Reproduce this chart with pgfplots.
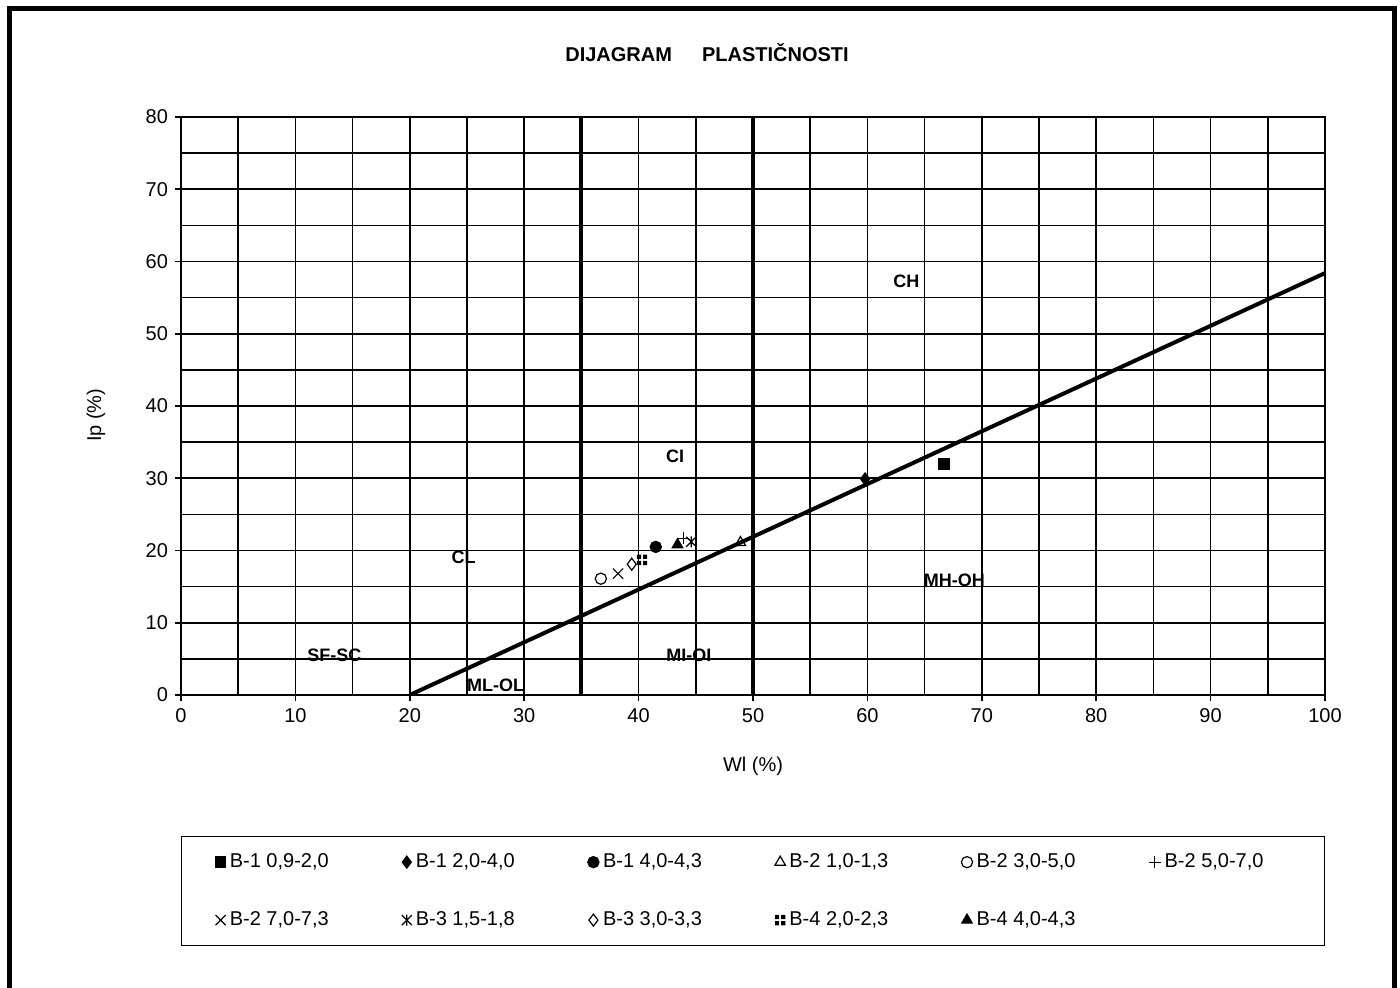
\documentclass[border=0pt]{standalone}
\usepackage{fontspec}
\setmainfont{Liberation Sans}
\usepackage{pgfplots}
\pgfplotsset{compat=1.18}

% Excel-like markers
\pgfdeclareplotmark{xbar}{%
  \pgfpathmoveto{\pgfqpoint{-\pgfplotmarksize}{-\pgfplotmarksize}}%
  \pgfpathlineto{\pgfqpoint{\pgfplotmarksize}{\pgfplotmarksize}}%
  \pgfpathmoveto{\pgfqpoint{-\pgfplotmarksize}{\pgfplotmarksize}}%
  \pgfpathlineto{\pgfqpoint{\pgfplotmarksize}{-\pgfplotmarksize}}%
  \pgfpathmoveto{\pgfqpoint{0pt}{-1.1\pgfplotmarksize}}%
  \pgfpathlineto{\pgfqpoint{0pt}{1.1\pgfplotmarksize}}%
  \pgfusepathqstroke}
\pgfdeclareplotmark{quad}{%
  \pgfpathrectangle{\pgfqpoint{-\pgfplotmarksize}{-\pgfplotmarksize}}{\pgfqpoint{0.8\pgfplotmarksize}{0.8\pgfplotmarksize}}%
  \pgfpathrectangle{\pgfqpoint{0.2\pgfplotmarksize}{-\pgfplotmarksize}}{\pgfqpoint{0.8\pgfplotmarksize}{0.8\pgfplotmarksize}}%
  \pgfpathrectangle{\pgfqpoint{-\pgfplotmarksize}{0.2\pgfplotmarksize}}{\pgfqpoint{0.8\pgfplotmarksize}{0.8\pgfplotmarksize}}%
  \pgfpathrectangle{\pgfqpoint{0.2\pgfplotmarksize}{0.2\pgfplotmarksize}}{\pgfqpoint{0.8\pgfplotmarksize}{0.8\pgfplotmarksize}}%
  \pgfusepathqfill}

\pgfplotsset{
  pt/.style={only marks, mark=#1, black, line width=0.6pt, mark size=2.6pt,
    legend image code/.code={\draw[mark repeat=2,mark phase=2,##1] plot coordinates {(0pt,0pt) (4.5pt,0pt) (7pt,0pt)};}},
}

\begin{document}
\begin{tikzpicture}[x=1pt,y=1pt]
\useasboundingbox (0,0) rectangle (700,494);
\draw[line width=2.5pt] (4.85,-10) -- (4.85,489.75) -- (697.35,489.75) -- (697.35,-10);
\node[font=\bfseries\fontsize{10}{12}\selectfont] at (353.5,467.5) {DIJAGRAM\hspace{15pt}PLASTIČNOSTI};

\begin{axis}[
  at={(90.5pt,146.5pt)}, anchor=south west,
  scale only axis, width=572pt, height=289pt,
  xmin=0, xmax=100, ymin=0, ymax=80,
  xtick={0,10,...,100}, ytick={0,10,...,80},
  minor tick num=1,
  grid=both,
  major grid style={black, line width=0.8pt},
  minor grid style={black, line width=0.8pt},
  axis line style={black, line width=0.8pt},
  tick align=outside, major tick length=3pt, minor tick length=0pt,
  xtick pos=bottom, ytick pos=left,
  tick style={black, line width=0.8pt},
  ticklabel style={font=\fontsize{10}{12}\selectfont},
  /pgf/number format/assume math mode=true,
  xlabel={Wl (\%)}, ylabel={Ip (\%)},
  label style={font=\fontsize{10}{12}\selectfont},
  xlabel style={at={(axis description cs:0.5,-0.1228)}, anchor=center},
  ylabel style={at={(axis description cs:-0.0743,0.484)}, anchor=center},
  legend columns=6,
  legend style={at={(0.5,-0.2439)}, anchor=north, draw=black, line width=0.7pt,
    font=\fontsize{10}{12}\selectfont, inner xsep=17pt, inner ysep=6.5pt,
    /tikz/row sep=16.5pt,
    /tikz/every even column/.append style={column sep=23pt},
    cells={anchor=west}},
]
% A-line and boundaries
\addplot[black, line width=2pt, forget plot] coordinates {(20,0) (100,58.4)};
\addplot[black, line width=2pt, forget plot] coordinates {(35,0) (35,80)};
\addplot[black, line width=2pt, forget plot] coordinates {(50,0) (50,80)};

\addplot[pt=square*] coordinates {(66.7,32.0)};
\addlegendentry{\makebox[61pt][l]{B-1 0,9-2,0}}
\addplot[pt=diamond*, mark size=3pt] coordinates {(59.8,29.9)};
\addlegendentry{\makebox[61pt][l]{B-1 2,0-4,0}}
\addplot[pt=*, mark size=2.8pt] coordinates {(41.5,20.5)};
\addlegendentry{\makebox[61pt][l]{B-1 4,0-4,3}}
\addplot[pt=triangle, mark options={fill=white}, mark size=3pt] coordinates {(48.9,21.1)};
\addlegendentry{\makebox[61pt][l]{B-2 1,0-1,3}}
\addplot[pt=o, mark options={fill=white}, mark size=2.8pt] coordinates {(36.7,16.1)};
\addlegendentry{\makebox[61pt][l]{B-2 3,0-5,0}}
\addplot[pt=+, mark size=3pt] coordinates {(43.9,21.7)};
\addlegendentry{\makebox[61pt][l]{B-2 5,0-7,0}}
\addplot[pt=x, mark size=3.6pt] coordinates {(38.2,16.8)};
\addlegendentry{\makebox[61pt][l]{B-2 7,0-7,3}}
\addplot[pt=xbar, mark size=2.5pt] coordinates {(44.6,21.2)};
\addlegendentry{\makebox[61pt][l]{B-3 1,5-1,8}}
\addplot[pt=diamond, mark options={fill=white}, mark size=3pt] coordinates {(39.4,18.1)};
\addlegendentry{\makebox[61pt][l]{B-3 3,0-3,3}}
\addplot[pt=quad, mark size=2.6pt] coordinates {(40.3,18.7)};
\addlegendentry{\makebox[61pt][l]{B-4 2,0-2,3}}
\addplot[pt=triangle*, mark size=3pt] coordinates {(43.4,20.8)};
\addlegendentry{\makebox[61pt][l]{B-4 4,0-4,3}}

\begin{scope}[font=\bfseries\fontsize{9}{11}\selectfont]
\node at (axis cs:63.4,57.3) {CH};
\node at (axis cs:43.2,33.1) {CI};
\node at (axis cs:24.7,19.1) {CL};
\node at (axis cs:67.6,15.9) {MH-OH};
\node at (axis cs:13.4,5.5) {SF-SC};
\node at (axis cs:44.4,5.5) {MI-OI};
\node at (axis cs:27.5,1.4) {ML-OL};
\end{scope}
\end{axis}
\end{tikzpicture}
\end{document}
